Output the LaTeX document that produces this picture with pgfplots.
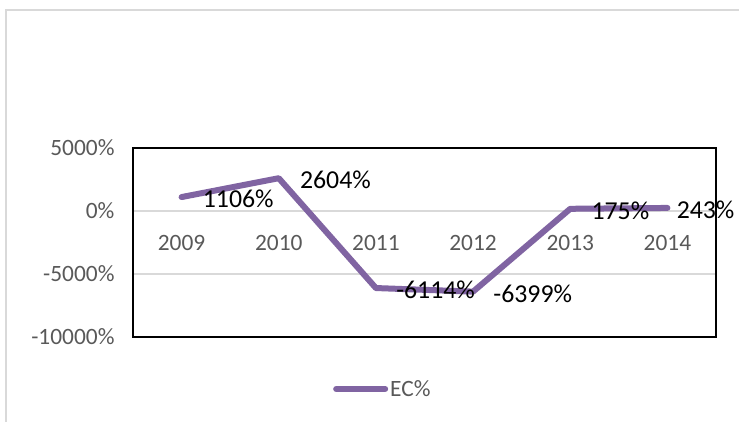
\documentclass[border=0pt]{standalone}
\usepackage{fontspec}
\setmainfont{Carlito}
\usepackage{pgfplots}
\pgfplotsset{compat=1.18}
\definecolor{ecpurple}{HTML}{8064A2}
\definecolor{txtgray}{HTML}{595959}
\definecolor{gridgray}{HTML}{D9D9D9}
% x, value, label offset (pt)
\pgfplotstableread{
x  y      dx
0  1106   15
1  2604   15
2  -6114  14
3  -6399  14
4  175    15
5  243    3
}\ecdata
\begin{document}
\begin{tikzpicture}[x=1pt,y=1pt]
\useasboundingbox (0,0) rectangle (739,421);
% chart area frame (runs off the right and bottom edges)
\draw[gridgray, line width=1.2pt] (6,-10) -- (6,411) -- (760,411);
\begin{axis}[
  at={(133pt,84pt)}, anchor=south west,
  scale only axis, width=583pt, height=189pt,
  clip=false,
  xmin=-0.5, xmax=5.5, ymin=-10000, ymax=5000,
  xtick={0,1,2,3,4,5},
  xticklabels={2009,2010,2011,2012,2013,2014},
  ytick={-10000,-5000,0,5000},
  yticklabels={-10000\%,-5000\%,0\%,5000\%},
  scaled y ticks=false,
  major tick length=0pt,
  ymajorgrids,
  grid style={gridgray, line width=1.3pt},
  axis line style={black, line width=1.3pt},
  ticklabel style={font=\fontsize{23.4}{28}\selectfont, text=txtgray},
  xticklabel style={yshift=105pt},
  yticklabel style={xshift=-15pt},
  legend style={draw=none, fill=none, inner sep=0pt,
    at={(0.343,-0.275)}, anchor=west,
    font=\fontsize{23.4}{28}\selectfont, text=txtgray},
  legend image code/.code={\draw[#1] (0pt,0pt) -- (49pt,0pt);},
]
\addplot[ecpurple, line width=6pt, line cap=round, line join=round,
  point meta=explicit symbolic,
  visualization depends on={\thisrow{dx} \as \dx},
  nodes near coords={\pgfplotspointmeta\%},
  nodes near coords style={anchor=west, xshift=\dx pt, yshift=-2pt,
    text=black, font=\fontsize{25.8}{30}\selectfont}]
  table[x=x, y=y, meta=y] {\ecdata};
\legend{EC\%}
\end{axis}
\end{tikzpicture}
\end{document}
